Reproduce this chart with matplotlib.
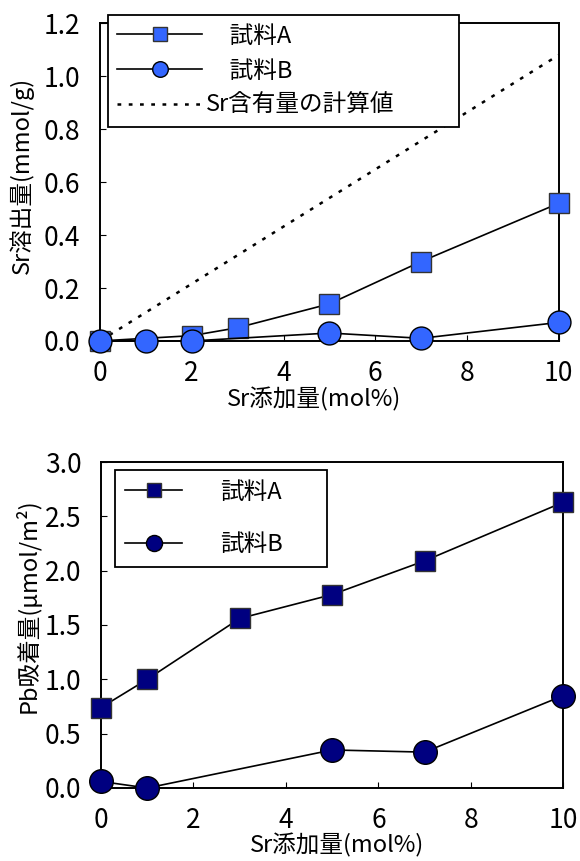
import numpy as np
import matplotlib
matplotlib.use('Agg')
import matplotlib.pyplot as plt
import matplotlib.ticker as mticker

plt.rcParams['font.family'] = ['Noto Sans CJK JP', 'DejaVu Sans']
plt.rcParams.update({
    'font.size': 17,
    'xtick.labelsize': 19,
    'ytick.labelsize': 19,
    'xtick.direction': 'in',
    'ytick.direction': 'in',
    'xtick.major.size': 4.5,
    'ytick.major.size': 4.5,
    'axes.linewidth': 1.4,
})

# ── data ─────────────────────────────────────────────────────────────────────
# 上: Sr溶出量
top_x_a = [0, 2, 3, 5, 7, 10]
top_y_a = [0.0, 0.02, 0.05, 0.14, 0.30, 0.52]
top_x_b = [0, 1, 2, 5, 7, 10]
top_y_b = [0.0, 0.0, 0.0, 0.03, 0.01, 0.07]
calc_x = [0, 10]
calc_y = [0.0, 1.08]

# 下: Pb吸着量
bot_x_a = [0, 1, 3, 5, 7, 10]
bot_y_a = [0.74, 1.00, 1.56, 1.78, 2.09, 2.63]
bot_x_b = [0, 1, 5, 7, 10]
bot_y_b = [0.06, 0.0, 0.35, 0.33, 0.85]

labels = ['試料A', '試料B', 'Sr含有量の計算値']
xlabel = 'Sr添加量(mol%)'
ylabel_top = 'Sr溶出量(mmol/g)'
ylabel_bot = 'Pb吸着量(μmol/m²)'

BLUE = '#3366FF'
NAVY = '#000080'

fig = plt.figure(figsize=(5.8, 8.61), dpi=100)
ax1 = fig.add_axes([0.1724, 0.604, 0.791, 0.369])
ax2 = fig.add_axes([0.1741, 0.0848, 0.797, 0.3786])

# ── top panel ────────────────────────────────────────────────────────────────
ax1.plot(calc_x, calc_y, color='black', lw=1.8, ls=(0, (1.5, 3)),
         label=labels[2], zorder=2)
ax1.plot(top_x_a, top_y_a, color='black', lw=1.2, marker='s', ms=14.5,
         mfc=BLUE, mec='#333333', mew=1.0, label='　' + labels[0],
         clip_on=False, zorder=3)
ax1.plot(top_x_b, top_y_b, color='black', lw=1.2, marker='o', ms=16.5,
         mfc=BLUE, mec='black', mew=1.0, label='　' + labels[1],
         clip_on=False, zorder=4)

ax1.set_xlim(0, 10)
ax1.set_ylim(0, 1.2)
ax1.set_xticks(np.arange(0, 11, 2))
ax1.set_yticks(np.arange(0, 1.21, 0.2))
ax1.yaxis.set_major_formatter(mticker.FormatStrFormatter('%.1f'))
ax1.tick_params(axis='x', pad=14)
ax1.tick_params(axis='y', pad=14)

ax1.set_xlabel(xlabel)
ax1.xaxis.set_label_coords(0.466, -0.145)
ax1.set_ylabel(ylabel_top)
ax1.yaxis.set_label_coords(-0.17, 0.52)
ax1.yaxis.label.set_va('center')

h, l = ax1.get_legend_handles_labels()
leg1 = ax1.legend([h[1], h[2], h[0]], [l[1], l[2], l[0]],
                  loc='upper left', bbox_to_anchor=(0.017, 0.676, 0.765, 0.349),
                  mode='expand', borderaxespad=0, fancybox=False,
                  edgecolor='black', framealpha=1, handlelength=3.6,
                  handletextpad=0.15, labelspacing=0.5, markerscale=0.68,
                  borderpad=0.4, fontsize=17)
leg1.get_frame().set_linewidth(1.3)
leg1.set_zorder(10)

# ── bottom panel ─────────────────────────────────────────────────────────────
ax2.plot(bot_x_a, bot_y_a, color='black', lw=1.2, marker='s', ms=15,
         mfc=NAVY, mec='#333333', mew=1.0, label=labels[0],
         clip_on=False, zorder=3)
ax2.plot(bot_x_b, bot_y_b, color='black', lw=1.2, marker='o', ms=17,
         mfc=NAVY, mec='black', mew=1.0, label=labels[1],
         clip_on=False, zorder=4)

ax2.set_xlim(0, 10)
ax2.set_ylim(0, 3.0)
ax2.set_xticks(np.arange(0, 11, 2))
ax2.set_yticks(np.arange(0, 3.01, 0.5))
ax2.yaxis.set_major_formatter(mticker.FormatStrFormatter('%.1f'))
ax2.tick_params(axis='x', pad=14)
ax2.tick_params(axis='y', pad=14)

ax2.set_xlabel(xlabel)
ax2.xaxis.set_label_coords(0.51, -0.14)
ax2.set_ylabel(ylabel_bot)
ax2.yaxis.set_label_coords(-0.158, 0.56)
ax2.yaxis.label.set_va('center')

leg2 = ax2.legend(loc='upper left', bbox_to_anchor=(0.03, 0.966, 0.459, 0.01),
                  mode='expand', borderaxespad=0, fancybox=False,
                  edgecolor='black', framealpha=1, handlelength=2.4,
                  handletextpad=1.6, labelspacing=1.25, markerscale=0.68,
                  borderpad=0.45, fontsize=17)
leg2.get_frame().set_linewidth(1.3)
leg2.set_zorder(10)

fig.savefig('out.png', dpi=100)
